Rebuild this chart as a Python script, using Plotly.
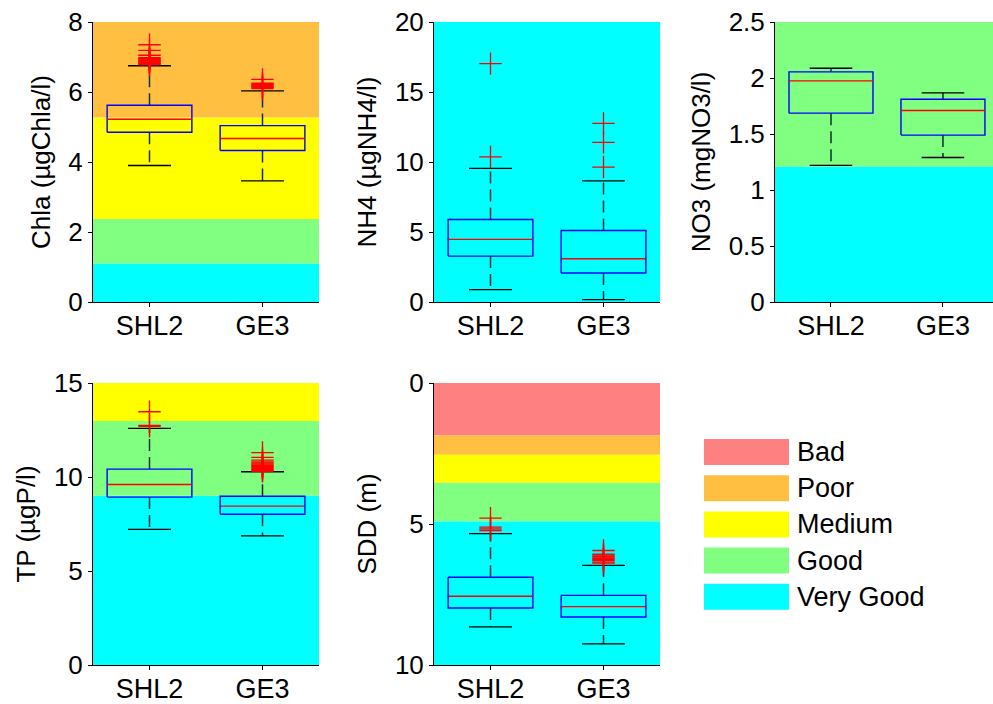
import plotly.graph_objects as go

# ---------------- data ----------------
categories = ["SHL2", "GE3"]

status_names = ["Bad", "Poor", "Medium", "Good", "Very Good"]
status_colors = ["#FF8080", "#FFBF40", "#FFFF00", "#80FF80", "#00FFFF"]

# Chla (µgChla/l)
chla_lower = [3.90, 3.46]
chla_q1 = [4.85, 4.33]
chla_median = [5.22, 4.67]
chla_q3 = [5.62, 5.04]
chla_upper = [6.75, 6.03]
chla_out_shl2 = [6.78, 6.80, 6.82, 6.84, 6.86, 6.88, 6.90, 6.92, 6.94, 6.96, 6.98, 7.05, 7.19, 7.35]
chla_out_ge3 = [6.10, 6.13, 6.16, 6.19, 6.22, 6.25, 6.36]
chla_bands = {"Very Good": (0, 1.10), "Good": (1.10, 2.37), "Medium": (2.37, 5.27), "Poor": (5.27, 8)}

# NH4 (µgNH4/l)
nh4_lower = [0.88, 0.17]
nh4_q1 = [3.28, 2.07]
nh4_median = [4.47, 3.09]
nh4_q3 = [5.89, 5.11]
nh4_upper = [9.55, 8.65]
nh4_out_shl2 = [10.36, 17.03]
nh4_out_ge3 = [9.64, 11.40, 12.76]
nh4_bands = {"Very Good": (0, 20)}

# NO3 (mgNO3/l)
no3_lower = [1.22, 1.29]
no3_q1 = [1.686, 1.49]
no3_median = [1.974, 1.71]
no3_q3 = [2.055, 1.81]
no3_upper = [2.087, 1.868]
no3_out_shl2 = []
no3_out_ge3 = []
no3_bands = {"Very Good": (0, 1.21), "Good": (1.21, 2.5)}

# TP (µgP/l)
tp_lower = [7.21, 6.87]
tp_q1 = [8.93, 8.02]
tp_median = [9.60, 8.45]
tp_q3 = [10.42, 8.98]
tp_upper = [12.59, 10.28]
tp_out_shl2 = [12.70, 12.75, 13.47]
tp_out_ge3 = [10.30, 10.35, 10.40, 10.45, 10.50, 10.55, 10.60, 10.65, 10.70, 10.75, 10.80, 10.90, 11.04, 11.30]
tp_bands = {"Very Good": (0, 9.0), "Good": (9.0, 12.98), "Medium": (12.98, 15)}

# SDD (m)
sdd_lower = [5.34, 6.47]
sdd_q1 = [6.89, 7.53]
sdd_median = [7.56, 7.93]
sdd_q3 = [7.98, 8.30]
sdd_upper = [8.65, 9.25]
sdd_out_shl2 = [4.79, 5.11, 5.17, 5.23]
sdd_out_ge3 = [5.94, 6.07, 6.10, 6.15, 6.20, 6.22, 6.25, 6.30, 6.35, 6.39]
sdd_bands = {"Bad": (0, 1.86), "Poor": (1.86, 2.54), "Medium": (2.54, 3.54), "Good": (3.54, 4.91), "Very Good": (4.91, 10)}

# ---------------- figure ----------------
FONT = "Liberation Sans, Arial, sans-serif"
FS = 26
FS_X = 27
W, H = 993, 704

panels = [
    dict(n=1, title="Chla (µgChla/l)", lower=chla_lower, q1=chla_q1, med=chla_median, q3=chla_q3, upper=chla_upper,
         outs=[chla_out_shl2, chla_out_ge3], bands=chla_bands, yrange=[0, 8], dtick=2,
         px=(93, 319), py=(22, 302), xr=[0.5, 2.5]),
    dict(n=2, title="NH4 (µgNH4/l)", lower=nh4_lower, q1=nh4_q1, med=nh4_median, q3=nh4_q3, upper=nh4_upper,
         outs=[nh4_out_shl2, nh4_out_ge3], bands=nh4_bands, yrange=[0, 20], dtick=5,
         px=(434, 660), py=(22, 302), xr=[0.5, 2.5]),
    dict(n=3, title="NO3 (mgNO3/l)", lower=no3_lower, q1=no3_q1, med=no3_median, q3=no3_q3, upper=no3_upper,
         outs=[no3_out_shl2, no3_out_ge3], bands=no3_bands, yrange=[0, 2.5], dtick=0.5,
         px=(775, 993), py=(22, 302), xr=[0.5, 2.5 - 6 / 113]),
    dict(n=4, title="TP (µgP/l)", lower=tp_lower, q1=tp_q1, med=tp_median, q3=tp_q3, upper=tp_upper,
         outs=[tp_out_shl2, tp_out_ge3], bands=tp_bands, yrange=[0, 15], dtick=5,
         px=(93, 319), py=(383, 665), xr=[0.5, 2.5]),
    dict(n=5, title="SDD (m)", lower=sdd_lower, q1=sdd_q1, med=sdd_median, q3=sdd_q3, upper=sdd_upper,
         outs=[sdd_out_shl2, sdd_out_ge3], bands=sdd_bands, yrange=[10, 0], dtick=5,
         px=(434, 660), py=(383, 665), xr=[0.5, 2.5]),
]

BOX_HW = 0.375
CAP_HW = 0.19

fig = go.Figure()
layout = dict(
    width=W, height=H, margin=dict(l=0, r=0, t=0, b=0),
    paper_bgcolor="white", plot_bgcolor="white", showlegend=False,
    font=dict(family=FONT, size=FS, color="black"), shapes=[], annotations=[],
)

for p in panels:
    n = p["n"]
    xa = "x" if n == 1 else f"x{n}"
    ya = "y" if n == 1 else f"y{n}"
    # background quality bands
    for name, (lo, hi) in p["bands"].items():
        layout["shapes"].append(dict(
            type="rect", xref=f"{xa} domain", yref=ya, x0=0, x1=1, y0=lo, y1=hi,
            fillcolor=status_colors[status_names.index(name)], line=dict(width=0), layer="below"))
    bx, by, mx, my, wx, wy, cx, cy, ox, oy = [], [], [], [], [], [], [], [], [], []
    for i, cat in enumerate(categories):
        c = i + 1
        lo, q1, md, q3, up = p["lower"][i], p["q1"][i], p["med"][i], p["q3"][i], p["upper"][i]
        bx += [c - BOX_HW, c + BOX_HW, c + BOX_HW, c - BOX_HW, c - BOX_HW, None]
        by += [q1, q1, q3, q3, q1, None]
        mx += [c - BOX_HW, c + BOX_HW, None]
        my += [md, md, None]
        wx += [c, c, None, c, c, None]
        wy += [q3, up, None, q1, lo, None]
        cx += [c - CAP_HW, c + CAP_HW, None, c - CAP_HW, c + CAP_HW, None]
        cy += [up, up, None, lo, lo, None]
        ox += [c] * len(p["outs"][i])
        oy += list(p["outs"][i])
    fig.add_trace(go.Scatter(x=wx, y=wy, mode="lines", line=dict(color="#103030", width=1.5, dash="12px,6px"),
                             xaxis=xa, yaxis=ya, hoverinfo="skip"))
    fig.add_trace(go.Scatter(x=cx, y=cy, mode="lines", line=dict(color="black", width=1.3),
                             xaxis=xa, yaxis=ya, hoverinfo="skip"))
    fig.add_trace(go.Scatter(x=bx, y=by, mode="lines", line=dict(color="#0000FF", width=1.4),
                             xaxis=xa, yaxis=ya, hoverinfo="skip"))
    fig.add_trace(go.Scatter(x=mx, y=my, mode="lines", line=dict(color="#FF0000", width=1.4),
                             xaxis=xa, yaxis=ya, hoverinfo="skip"))
    if ox:
        fig.add_trace(go.Scatter(x=ox, y=oy, mode="markers",
                                 marker=dict(symbol="cross-thin", size=16, line=dict(color="#FF0000", width=1.3)),
                                 xaxis=xa, yaxis=ya, hoverinfo="skip"))

    x0, x1 = p["px"]
    y0, y1 = p["py"]
    axis_common = dict(showline=True, linecolor="black", linewidth=1, ticks="outside", ticklen=4,
                       tickcolor="black", showgrid=False, zeroline=False, automargin=False)
    layout["xaxis" if n == 1 else f"xaxis{n}"] = dict(
        domain=[x0 / W, x1 / W], range=p["xr"], anchor=ya, tickmode="array",
        tickvals=[1, 2], ticktext=categories, ticklabelstandoff=-4,
        tickfont=dict(family=FONT, size=FS_X, color="black"), **axis_common)
    layout["yaxis" if n == 1 else f"yaxis{n}"] = dict(
        domain=[1 - y1 / H, 1 - y0 / H], range=p["yrange"], anchor=xa, dtick=p["dtick"], tick0=0,
        tickfont=dict(family=FONT, size=FS, color="black"),
        title=dict(text=p["title"], standoff=10, font=dict(family=FONT, size=FS, color="black")),
        **axis_common)

# legend of quality classes
for k, (name, col) in enumerate(zip(status_names, status_colors)):
    cyp = 452 + k * 36.2
    layout["shapes"].append(dict(type="rect", xref="paper", yref="paper",
                                 x0=704 / W, x1=789 / W, y0=1 - (cyp + 13) / H, y1=1 - (cyp - 13) / H,
                                 fillcolor=col, line=dict(width=0)))
    layout["annotations"].append(dict(xref="paper", yref="paper", x=795 / W, y=1 - cyp / H,
                                      xanchor="left", yanchor="middle", text=name, showarrow=False,
                                      font=dict(family=FONT, size=FS_X, color="black")))

fig.update_layout(**layout)
fig.write_html("out.html", config={"displayModeBar": False},
               post_script="document.body.style.margin='0';document.body.style.overflow='hidden';")
